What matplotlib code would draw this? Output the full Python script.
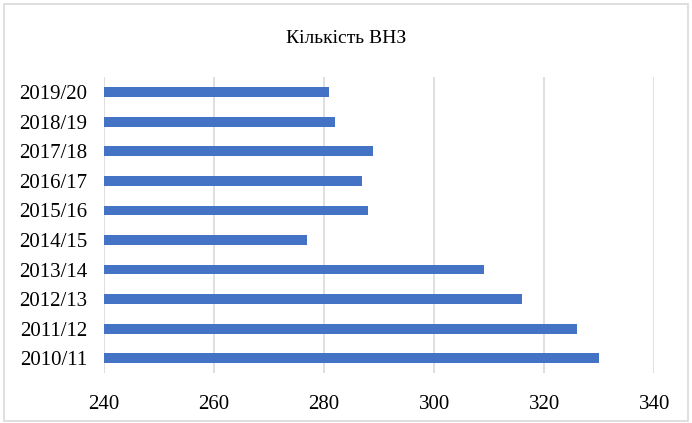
import matplotlib.pyplot as plt
from matplotlib.patches import Rectangle

years = ["2010/11", "2011/12", "2012/13", "2013/14", "2014/15",
         "2015/16", "2016/17", "2017/18", "2018/19", "2019/20"]
counts = [330, 326, 316, 309, 277, 288, 287, 289, 282, 281]
xticks = [240, 260, 280, 300, 320, 340]

plt.rcParams['font.family'] = ['Liberation Serif', 'DejaVu Serif']

fig = plt.figure(figsize=(6.92, 4.23), dpi=100)
ax = fig.add_axes([0.1496, 0.1182, 0.7962, 0.6986])

ypos = list(range(len(years)))
ax.barh(ypos, [c - 240 for c in counts], left=240, height=0.33,
        color='#4472C4', zorder=3)

ax.set_xlim(240, 340)
ax.set_ylim(-0.5, len(years) - 0.5)
ax.set_xticks(xticks)
ax.set_xticklabels([str(t) for t in xticks], fontsize=15)
ax.set_yticks(ypos)
ax.set_yticklabels(years, fontsize=15)
ax.tick_params(axis='both', length=0)
ax.tick_params(axis='x', pad=16)
ax.tick_params(axis='y', pad=11.5)
ax.grid(True, axis='x', color='#d9d9d9', linewidth=1.2, zorder=0)
for s in ax.spines.values():
    s.set_visible(False)

fig.text(0.5, 0.908, "Кількість ВНЗ", ha='center', va='center', fontsize=14)
fig.patches.append(Rectangle((4 / 692, 2 / 423), 684 / 692, 417 / 423,
                             transform=fig.transFigure, fill=False,
                             edgecolor='#d9d9d9', linewidth=1.2))

fig.savefig('out.png', dpi=100)
